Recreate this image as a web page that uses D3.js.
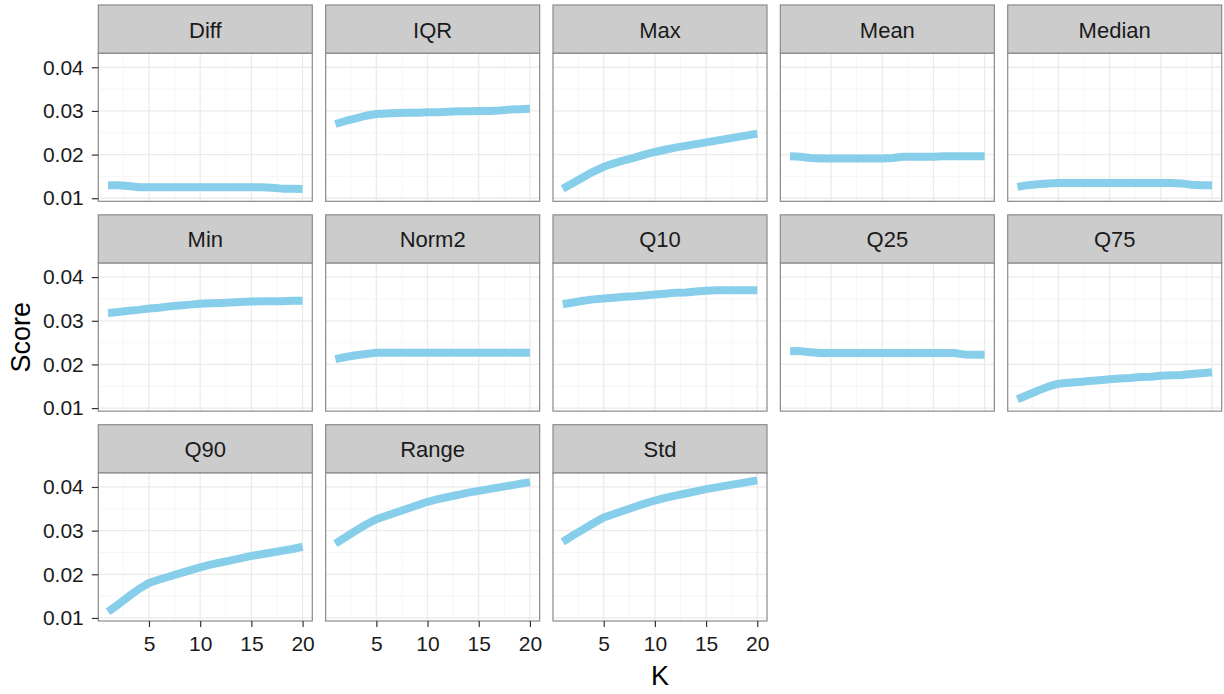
<!DOCTYPE html>
<html>
<head>
<meta charset="utf-8">
<script src="https://cdn.jsdelivr.net/npm/d3@7/dist/d3.min.js"></script>
<style>
  body { margin: 0; background: #fff; }
  text { font-family: "Liberation Sans", Arial, sans-serif; }
</style>
</head>
<body>
<svg id="chart" width="1224" height="694"></svg>
<script>
// Number of neighbours K on the x axis
const kValues = [1, 2, 3, 4, 5, 6, 7, 8, 9, 10, 11, 12, 13, 14, 15, 16, 17, 18, 19, 20];

// Score per K for each summary statistic
const scoreDiff   = [0.0130, 0.0130, 0.0128, 0.0125, 0.0125, 0.0125, 0.0125, 0.0125, 0.0125, 0.0125, 0.0125, 0.0125, 0.0125, 0.0125, 0.0125, 0.0125, 0.0124, 0.0122, 0.0122, 0.0121];
const scoreIQR    = [0.0270, 0.0277, 0.0283, 0.0289, 0.0293, 0.0294, 0.0295, 0.0296, 0.0296, 0.0297, 0.0297, 0.0298, 0.0299, 0.0299, 0.0300, 0.0300, 0.0301, 0.0303, 0.0304, 0.0305];
const scoreMax    = [0.0122, 0.0135, 0.0148, 0.0161, 0.0172, 0.0180, 0.0187, 0.0193, 0.0200, 0.0206, 0.0211, 0.0216, 0.0220, 0.0224, 0.0228, 0.0232, 0.0236, 0.0240, 0.0244, 0.0248];
const scoreMean   = [0.0196, 0.0195, 0.0192, 0.0191, 0.0191, 0.0191, 0.0191, 0.0191, 0.0191, 0.0191, 0.0192, 0.0195, 0.0195, 0.0195, 0.0195, 0.0196, 0.0196, 0.0196, 0.0196, 0.0196];
const scoreMedian = [0.0126, 0.0130, 0.0132, 0.0134, 0.0135, 0.0135, 0.0135, 0.0135, 0.0135, 0.0135, 0.0135, 0.0135, 0.0135, 0.0135, 0.0135, 0.0135, 0.0134, 0.0131, 0.0130, 0.0130];
const scoreMin    = [0.0318, 0.0320, 0.0323, 0.0325, 0.0328, 0.0330, 0.0333, 0.0335, 0.0337, 0.0339, 0.0340, 0.0341, 0.0342, 0.0343, 0.0344, 0.0345, 0.0345, 0.0345, 0.0346, 0.0346];
const scoreNorm2  = [0.0212, 0.0217, 0.0221, 0.0224, 0.0227, 0.0227, 0.0227, 0.0227, 0.0227, 0.0227, 0.0227, 0.0227, 0.0227, 0.0227, 0.0227, 0.0227, 0.0227, 0.0227, 0.0227, 0.0227];
const scoreQ10    = [0.0338, 0.0342, 0.0346, 0.0349, 0.0351, 0.0353, 0.0355, 0.0356, 0.0358, 0.0360, 0.0362, 0.0364, 0.0365, 0.0367, 0.0369, 0.0370, 0.0370, 0.0370, 0.0370, 0.0370];
const scoreQ25    = [0.0231, 0.0230, 0.0228, 0.0226, 0.0226, 0.0226, 0.0226, 0.0226, 0.0226, 0.0226, 0.0226, 0.0226, 0.0226, 0.0226, 0.0226, 0.0226, 0.0226, 0.0223, 0.0222, 0.0222];
const scoreQ75    = [0.0120, 0.0130, 0.0140, 0.0149, 0.0156, 0.0158, 0.0160, 0.0162, 0.0164, 0.0166, 0.0168, 0.0169, 0.0171, 0.0172, 0.0174, 0.0175, 0.0176, 0.0178, 0.0180, 0.0182];
const scoreQ90    = [0.0114, 0.0131, 0.0149, 0.0166, 0.0180, 0.0188, 0.0195, 0.0202, 0.0209, 0.0216, 0.0222, 0.0227, 0.0232, 0.0237, 0.0242, 0.0246, 0.0250, 0.0254, 0.0258, 0.0263];
const scoreRange  = [0.0270, 0.0285, 0.0300, 0.0314, 0.0326, 0.0334, 0.0342, 0.0350, 0.0358, 0.0366, 0.0372, 0.0377, 0.0382, 0.0387, 0.0391, 0.0395, 0.0399, 0.0403, 0.0407, 0.0411];
const scoreStd    = [0.0274, 0.0289, 0.0303, 0.0317, 0.0330, 0.0338, 0.0346, 0.0354, 0.0362, 0.0369, 0.0375, 0.0380, 0.0385, 0.0390, 0.0395, 0.0399, 0.0403, 0.0407, 0.0411, 0.0415];

const facetNames  = ["Diff", "IQR", "Max", "Mean", "Median", "Min", "Norm2", "Q10", "Q25", "Q75", "Q90", "Range", "Std"];
const facetSeries = [scoreDiff, scoreIQR, scoreMax, scoreMean, scoreMedian, scoreMin, scoreNorm2, scoreQ10, scoreQ25, scoreQ75, scoreQ90, scoreRange, scoreStd];

// Axis breaks
const yTicks = [0.01, 0.02, 0.03, 0.04];
const yMinorTicks = [0.015, 0.025, 0.035];
const xTicks = [5, 10, 15, 20];
const xMinorTicks = [2.5, 7.5, 12.5, 17.5];
const yDomain = [0.0093, 0.0432];

// Facet grid geometry
const nCol = 5;
const left0 = 98.3, colPitch = 227.35, panelW = 214;
const top0 = 5, rowPitch = 209.85, stripH = 48.3, panelH = 148;

const svg = d3.select("#chart");
svg.append("rect").attr("width", 1224).attr("height", 694).attr("fill", "#fff");

const kPad = (d3.max(kValues) - d3.min(kValues)) * 0.05;
const x = d3.scaleLinear()
  .domain([d3.min(kValues) - kPad, d3.max(kValues) + kPad])
  .range([0, panelW]);
const y = d3.scaleLinear().domain(yDomain).range([panelH, 0]);

const line = d3.line()
  .x((d, i) => x(kValues[i]))
  .y(d => y(d));

const nRows = Math.ceil(facetNames.length / nCol);

facetNames.forEach((name, idx) => {
  const col = idx % nCol, row = Math.floor(idx / nCol);
  const g = svg.append("g")
    .attr("transform", `translate(${left0 + col * colPitch},${top0 + row * rowPitch})`);

  // strip
  g.append("rect")
    .attr("width", panelW).attr("height", stripH)
    .attr("fill", "#CCCCCC").attr("stroke", "#8A8A8A").attr("stroke-width", 1.2);
  g.append("text")
    .attr("x", panelW / 2).attr("y", stripH / 2 + 1)
    .attr("text-anchor", "middle").attr("dominant-baseline", "central")
    .attr("font-size", 22).attr("fill", "#1A1A1A")
    .text(name);

  const p = g.append("g").attr("transform", `translate(0,${stripH})`);
  p.append("rect").attr("width", panelW).attr("height", panelH).attr("fill", "#fff");

  // minor grid
  p.selectAll(".ymin").data(yMinorTicks).join("line")
    .attr("x1", 0).attr("x2", panelW)
    .attr("y1", d => y(d)).attr("y2", d => y(d))
    .attr("stroke", "#F4F4F4").attr("stroke-width", 0.8);
  p.selectAll(".xmin").data(xMinorTicks).join("line")
    .attr("y1", 0).attr("y2", panelH)
    .attr("x1", d => x(d)).attr("x2", d => x(d))
    .attr("stroke", "#F4F4F4").attr("stroke-width", 0.8);
  // major grid
  p.selectAll(".ymaj").data(yTicks).join("line")
    .attr("x1", 0).attr("x2", panelW)
    .attr("y1", d => y(d)).attr("y2", d => y(d))
    .attr("stroke", "#EBEBEB").attr("stroke-width", 1.3);
  p.selectAll(".xmaj").data(xTicks).join("line")
    .attr("y1", 0).attr("y2", panelH)
    .attr("x1", d => x(d)).attr("x2", d => x(d))
    .attr("stroke", "#EBEBEB").attr("stroke-width", 1.3);

  // score line
  p.append("path")
    .datum(facetSeries[idx])
    .attr("d", line)
    .attr("fill", "none")
    .attr("stroke", "#87CEEB")
    .attr("stroke-width", 8)
    .attr("stroke-linejoin", "round")
    .attr("stroke-linecap", "butt");

  // panel border
  p.append("rect")
    .attr("width", panelW).attr("height", panelH)
    .attr("fill", "none").attr("stroke", "#8A8A8A").attr("stroke-width", 1.2);

  // y axis on the first column
  if (col === 0) {
    const ya = p.append("g")
      .call(d3.axisLeft(y).tickValues(yTicks).tickSize(6.5).tickPadding(8).tickFormat(d3.format(".2f")));
    ya.select(".domain").remove();
    ya.selectAll(".tick line").attr("stroke", "#333").attr("stroke-width", 1.2);
    ya.selectAll(".tick text").attr("font-size", 21).attr("fill", "#1A1A1A")
      .attr("font-family", "Liberation Sans, Arial, sans-serif");
  }
  // x axis under the last row
  if (row === nRows - 1) {
    const xa = p.append("g").attr("transform", `translate(0,${panelH})`)
      .call(d3.axisBottom(x).tickValues(xTicks).tickSize(6).tickPadding(9));
    xa.select(".domain").remove();
    xa.selectAll(".tick line").attr("stroke", "#333").attr("stroke-width", 1.2);
    xa.selectAll(".tick text").attr("font-size", 21).attr("fill", "#1A1A1A")
      .attr("font-family", "Liberation Sans, Arial, sans-serif");
  }
});

// axis titles
const plotLeft = left0, plotRight = left0 + (nCol - 1) * colPitch + panelW;
const plotTop = top0 + stripH, plotBottom = top0 + (nRows - 1) * rowPitch + stripH + panelH;
svg.append("text")
  .attr("x", (plotLeft + plotRight) / 2).attr("y", 685)
  .attr("text-anchor", "middle").attr("font-size", 27).attr("fill", "#000")
  .text("K");
svg.append("text")
  .attr("transform", `translate(30,${(plotTop + plotBottom) / 2}) rotate(-90)`)
  .attr("text-anchor", "middle").attr("font-size", 27).attr("fill", "#000")
  .text("Score");
</script>
</body>
</html>
